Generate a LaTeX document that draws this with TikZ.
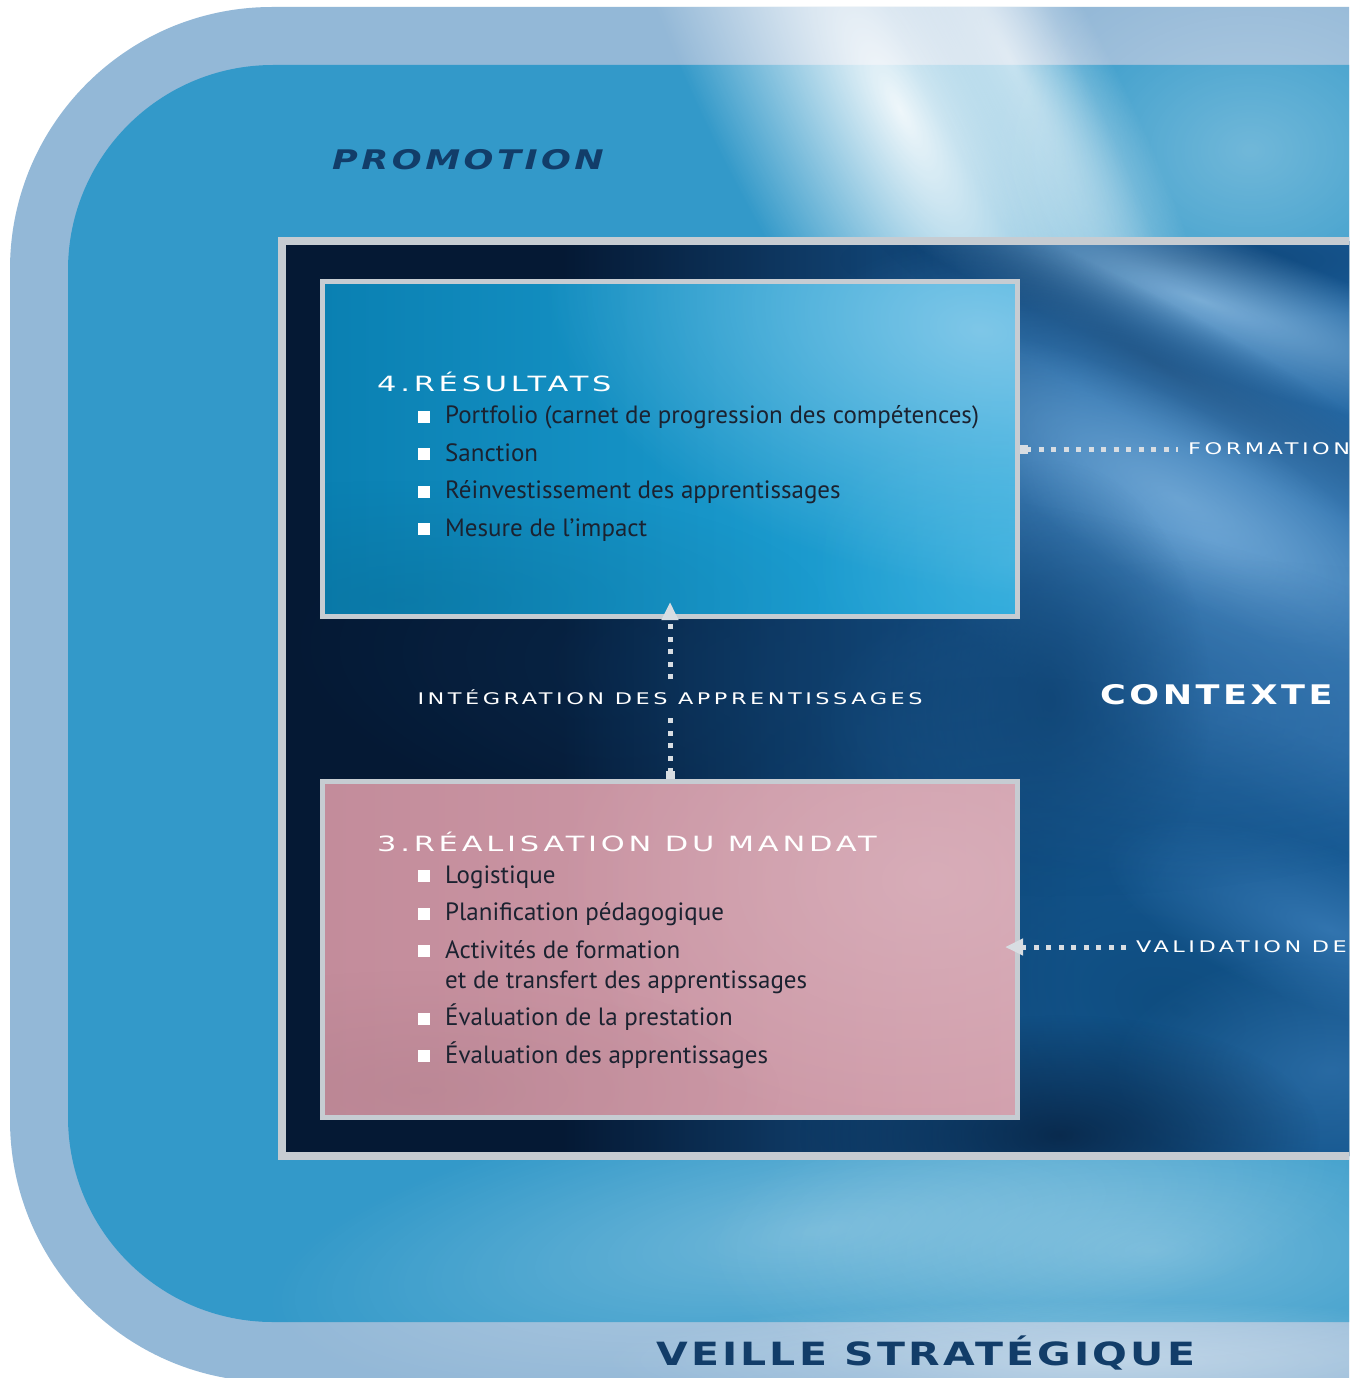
\documentclass[tikz,border=0pt]{standalone}
\usepackage{fontspec}
\setmainfont{PT Sans}
\newfontfamily\headfont[FakeStretch=1.45,LetterSpace=18]{DejaVu Sans}
\newfontfamily\labelfont[FakeStretch=1.4,LetterSpace=22]{DejaVu Sans}
\newfontfamily\bigfont[FakeStretch=1.3,LetterSpace=13]{DejaVu Sans}
\newfontfamily\veillefont[FakeStretch=1.28,LetterSpace=10]{DejaVu Sans}
\usetikzlibrary{arrows.meta,fadings,calc}

\definecolor{bandblue}{HTML}{93B8D7}
\definecolor{fieldblue}{HTML}{3399C9}
\definecolor{framegray}{HTML}{C6CCD2}
\definecolor{navy}{HTML}{051934}
\definecolor{framemid}{HTML}{1A5F9C}
\definecolor{streaklight}{HTML}{8CBDE3}
\definecolor{streakdark}{HTML}{0B3A68}
\definecolor{midlight}{HTML}{5C9AD0}
\definecolor{ctxblue}{HTML}{3B7EBB}
\definecolor{lowdark}{HTML}{0C4878}
\definecolor{lowlight}{HTML}{3F82BE}
\definecolor{gapblue}{HTML}{0E4170}
\definecolor{boxteal}{HTML}{0A80B2}
\definecolor{boxsky}{HTML}{22A6DA}
\definecolor{boxglow}{HTML}{8FCDEB}
\definecolor{rose}{HTML}{C38C9B}
\definecolor{roselight}{HTML}{D2A0AD}
\definecolor{ink}{HTML}{1B2230}
\definecolor{titlenavy}{HTML}{123D69}
\definecolor{dotgray}{HTML}{D8DDE2}

\tikzfading[name=softblob, inner color=transparent!0, outer color=transparent!100]
\tikzfading[name=toright, left color=transparent!100, right color=transparent!0]

% soft glow: centre x, centre y, radius a, radius b, angle, colour/opacity
\newcommand{\softglow}[6]{%
  \fill[#6, path fading=softblob, transform canvas={shift={(#1,#2)}, rotate=#5}]
    (0,0) ellipse [x radius=#3pt, y radius=#4pt];}

\newcommand{\bul}{\textcolor{white}{\rule[1pt]{12pt}{12pt}}\hspace{15pt}}

\tikzset{
  boxframe/.style={draw=framegray, line width=5pt, minimum width=695pt, inner sep=0pt},
  headtext/.style={text=white, inner sep=0pt, font=\headfont\fontsize{21}{21}\selectfont},
  listtext/.style={text=ink, inner sep=0pt, align=left, font=\fontsize{25}{37.5}\selectfont},
  flowlabel/.style={text=white, inner sep=10pt, font=\labelfont\fontsize{16}{16}\selectfont},
  dotline/.style={draw=dotgray, line width=5pt, dash pattern=on 5pt off 7.5pt},
  upTip/.tip={Triangle[width=16pt,length=18pt,color=dotgray]},
  sqTip/.tip={Square[length=8pt,width=9pt,color=dotgray]},
}

\begin{document}
\begin{tikzpicture}[x=1pt,y=-1pt]
\useasboundingbox (0,0) rectangle (1349,1378);
\clip (0,0) rectangle (1349,1378);
\fill[white] (0,0) rectangle (1349,1378);

% outer band and inner field
\fill[bandblue, rounded corners=262pt] (10,7) rectangle (1700,1382);
\begin{scope}
  \clip[rounded corners=262pt] (10,7) rectangle (1700,1382);
  \fill[fieldblue, rounded corners=205pt] (68,65) rectangle (1700,1322);
  % light falling across the field
  \softglow{900}{110}{580}{180}{-62}{white, fill opacity=.92}
  \softglow{1010}{60}{420}{90}{-62}{white, fill opacity=.6}
  \softglow{1250}{150}{260}{200}{0}{white, fill opacity=.3}
  \softglow{820}{1230}{560}{150}{8}{white, fill opacity=.3}
  \softglow{1150}{1250}{450}{160}{0}{white, fill opacity=.3}
  \softglow{1100}{1360}{500}{60}{0}{white, fill opacity=.35}
\end{scope}

% dark frame
\fill[navy] (282,241) rectangle (1420,1156);
\begin{scope}
  \clip (282,241) rectangle (1420,1156);
  \fill[framemid, path fading=toright] (560,241) rectangle (1080,1156);
  \fill[framemid] (1080,241) rectangle (1420,1156);
  \softglow{1180}{260}{340}{60}{0}{streakdark, fill opacity=.7}
  \softglow{1200}{300}{360}{70}{-19}{streaklight, fill opacity=.85}
  \softglow{1160}{365}{360}{60}{-29}{streakdark, fill opacity=.85}
  \softglow{1210}{540}{460}{220}{-30}{midlight, fill opacity=.85}
  \softglow{1180}{500}{300}{90}{-30}{streaklight, fill opacity=.5}
  \softglow{1225}{720}{420}{160}{0}{ctxblue, fill opacity=.7}
  \softglow{1050}{700}{160}{240}{0}{gapblue, fill opacity=.7}
  \softglow{1180}{1010}{520}{300}{-20}{lowdark, fill opacity=.8}
  \softglow{1330}{930}{240}{80}{-20}{lowlight, fill opacity=.7}
  \softglow{1330}{1070}{220}{120}{0}{lowlight, fill opacity=.5}
  \softglow{1060}{1135}{260}{120}{0}{navy, fill opacity=.7}
  \softglow{900}{690}{620}{200}{-5}{gapblue, fill opacity=.5}
\end{scope}
\draw[framegray, line width=8pt] (282,241) rectangle (1420,1156);

% box 4 background
\fill[left color=boxteal, right color=boxsky] (322.5,281.5) rectangle (1017.5,616.5);
\begin{scope}
  \clip (322.5,281.5) rectangle (1017.5,616.5);
  \softglow{980}{330}{440}{260}{-10}{boxglow, fill opacity=.85}
  \softglow{1010}{560}{200}{160}{0}{boxsky!70!white, fill opacity=.4}
  \softglow{400}{600}{420}{120}{0}{boxteal!80!black, fill opacity=.35}
\end{scope}

% box 3 background
\fill[left color=rose, right color=roselight] (322.5,781.5) rectangle (1017.5,1117.5);
\begin{scope}
  \clip (322.5,781.5) rectangle (1017.5,1117.5);
  \softglow{930}{880}{380}{260}{0}{roselight!70!white, fill opacity=.5}
  \softglow{420}{1090}{360}{120}{0}{rose!85!black, fill opacity=.3}
\end{scope}

% boxes
\node[boxframe, minimum height=335pt] (box4) at (670,449) {};
\node[boxframe, minimum height=336pt] (box3) at (670,949.5) {};

% box contents
\node[headtext, anchor=base west] (title4) at (377,391) {4.RÉSULTATS};
\node[listtext, anchor=base west] (list4) at (418,536) {%
  \bul Portfolio (carnet de progression des compétences)\\
  \bul Sanction\\
  \bul Réinvestissement des apprentissages\\
  \bul Mesure de l’impact};

\node[headtext, anchor=base west] (title3) at (377,851) {3.RÉALISATION DU MANDAT};
\node[listtext, anchor=base west] (list3) at (418,1063) {%
  \bul Logistique\\
  \bul Planification pédagogique\\
  \bul Activités de formation\\[-7.5pt]
  \hspace*{27pt}et de transfert des apprentissages\\
  \bul Évaluation de la prestation\\
  \bul Évaluation des apprentissages};

% flow labels
\node[flowlabel] (integ) at (670,697) {INTÉGRATION DES APPRENTISSAGES};
\node[flowlabel, anchor=west] (formation) at (1178,449) {FORMATION};
\node[flowlabel, anchor=west] (validation) at (1126,947) {VALIDATION DE};

% connectors
\draw[dotline, sqTip-] (box3.north) -- (integ.south);
\draw[dotline, -upTip, shorten >=-17pt] (integ.north) -- (box4.south);
\draw[dotline, sqTip-] (box4.east) -- (formation.west);
\draw[dotline, -upTip, shorten >=-15pt] (validation.west) -- (validation.west -| box3.east);

% large headings
\node[text=white, inner sep=0pt, anchor=west, font=\bigfont\bfseries\fontsize{27}{27}\selectfont] (contexte) at (1100,695) {CONTEXTE};
\node[text=titlenavy, inner sep=0pt, anchor=west, font=\bigfont\bfseries\itshape\fontsize{27}{27}\selectfont] (promotion) at (332,160) {PROMOTION};
\node[text=titlenavy, inner sep=0pt, anchor=west, font=\veillefont\bfseries\fontsize{32}{32}\selectfont] (veille) at (656,1353) {VEILLE STRATÉGIQUE};
\end{tikzpicture}
\end{document}
